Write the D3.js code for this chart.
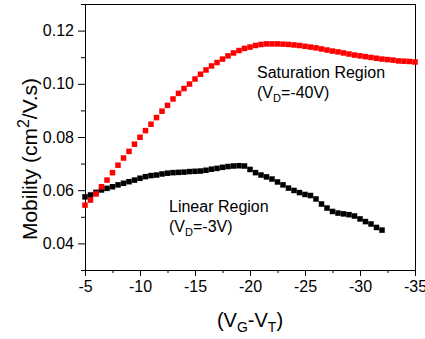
<!DOCTYPE html>
<html>
  <head>
    <meta charset="utf-8">
    <title>Mobility vs VG-VT</title>
    <style>
      body { margin: 0; background: #fff; }
      svg { display: block; font-family: "Liberation Sans", Arial, sans-serif; }
      .axis path, .axis line { stroke: #000; }
      .axis text { font-size: 16px; fill: #000; }
    </style>
  </head>
  <body>
    <div id="chart"></div>
    <script src="https://d3js.org/d3.v7.min.js"></script>
    <script>
      // gate overdrive (V), 0.5 V steps
      const vg = [
        -5, -5.5, -6, -6.5, -7, -7.5, -8, -8.5, -9, -9.5,
        -10, -10.5, -11, -11.5, -12, -12.5, -13, -13.5, -14, -14.5,
        -15, -15.5, -16, -16.5, -17, -17.5, -18, -18.5, -19, -19.5,
        -20, -20.5, -21, -21.5, -22, -22.5, -23, -23.5, -24, -24.5,
        -25, -25.5, -26, -26.5, -27, -27.5, -28, -28.5, -29, -29.5,
        -30, -30.5, -31, -31.5, -32, -32.5, -33, -33.5, -34, -34.5,
        -35
      ];

      // saturation region, VD = -40V
      const satMob = [
        0.0544, 0.0563, 0.0586, 0.0613, 0.0638, 0.0666, 0.0694, 0.0721, 0.0746, 0.0773,
        0.0799, 0.0824, 0.0848, 0.0873, 0.0897, 0.0919, 0.0943, 0.0964, 0.0982, 0.0999,
        0.1018, 0.1036, 0.1052, 0.1067, 0.1080, 0.1093, 0.1105, 0.1116, 0.1125, 0.1133,
        0.1138, 0.1144, 0.1148, 0.1150, 0.1150, 0.1150, 0.1149, 0.1148, 0.1146, 0.1144,
        0.1141, 0.1138, 0.1135, 0.1131, 0.1127, 0.1123, 0.1120, 0.1116, 0.1112, 0.1108,
        0.1105, 0.1102, 0.1099, 0.1096, 0.1093, 0.1091, 0.1089, 0.1086, 0.1085, 0.1084,
        0.1082
      ];

      // linear region, VD = -3V (stops at -32 V)
      const linMob = [
        0.0575, 0.0582, 0.0592, 0.0601, 0.0607, 0.0613, 0.0620, 0.0626, 0.0632, 0.0638,
        0.0645, 0.0651, 0.0655, 0.0657, 0.0661, 0.0664, 0.0666, 0.0667, 0.0668, 0.0670,
        0.0671, 0.0672, 0.0675, 0.0679, 0.0682, 0.0686, 0.0689, 0.0691, 0.0692, 0.0691,
        0.0678, 0.0666, 0.0657, 0.0650, 0.0642, 0.0631, 0.0620, 0.0608, 0.0599, 0.0591,
        0.0584, 0.0580, 0.0567, 0.0548, 0.0533, 0.0520, 0.0514, 0.0511, 0.0508, 0.0503,
        0.0492, 0.0482, 0.0473, 0.0460, 0.0450
      ];

      const xMajor = [-5, -10, -15, -20, -25, -30, -35];
      const xMinor = [-7.5, -12.5, -17.5, -22.5, -27.5, -32.5];
      const yMajor = [0.04, 0.06, 0.08, 0.10, 0.12];
      const yMinor = [0.03, 0.05, 0.07, 0.09, 0.11, 0.13];

      const W = 425, H = 339;
      const pLeft = 85, pRight = 415, pTop = 4, pBottom = 270;
      const sq = 5.5;

      const x = d3.scaleLinear().domain([-5, -35]).range([pLeft, pRight]);
      const y = d3.scaleLinear().domain([0.03, 0.13]).range([pBottom, pTop]);

      const svg = d3.select('#chart').append('svg').attr('width', W).attr('height', H);

      // minor ticks first
      svg.append('g').attr('class', 'axis').attr('transform', 'translate(0,' + pBottom + ')')
        .call(d3.axisBottom(x).tickValues(xMinor).tickSize(3).tickFormat(''))
        .select('.domain').remove();
      svg.append('g').attr('class', 'axis').attr('transform', 'translate(' + pLeft + ',0)')
        .call(d3.axisLeft(y).tickValues(yMinor).tickSize(4).tickFormat(''))
        .select('.domain').remove();

      svg.append('g').attr('class', 'axis').attr('transform', 'translate(0,' + pBottom + ')')
        .call(d3.axisBottom(x).tickValues(xMajor).tickSize(6).tickSizeOuter(0).tickPadding(5).tickFormat(d => String(d)));
      svg.append('g').attr('class', 'axis').attr('transform', 'translate(' + pLeft + ',0)')
        .call(d3.axisLeft(y).tickValues(yMajor).tickSize(7).tickSizeOuter(0).tickPadding(4).tickFormat(d3.format('.2f')));

      // frame top / right
      svg.append('line').attr('x1', pLeft).attr('x2', pRight).attr('y1', pTop + 0.5).attr('y2', pTop + 0.5).attr('stroke', '#000');
      svg.append('line').attr('x1', pRight + 0.5).attr('x2', pRight + 0.5).attr('y1', pTop).attr('y2', pBottom).attr('stroke', '#000');

      const lin = linMob.map((m, i) => [vg[i], m]);
      const sat = satMob.map((m, i) => [vg[i], m]);

      svg.append('g').selectAll('rect').data(lin).enter().append('rect')
        .attr('x', d => x(d[0]) - sq / 2).attr('y', d => y(d[1]) - sq / 2)
        .attr('width', sq).attr('height', sq).attr('fill', '#000');

      svg.append('g').selectAll('rect').data(sat).enter().append('rect')
        .attr('x', d => x(d[0]) - sq / 2).attr('y', d => y(d[1]) - sq / 2)
        .attr('width', sq).attr('height', sq).attr('fill', '#ff0000');

      // annotations
      const ann = svg.append('g').style('font-size', '16px').attr('fill', '#000');
      ann.append('text').attr('x', 257).attr('y', 78).text('Saturation Region');
      const t1 = ann.append('text').attr('x', 257).attr('y', 98);
      t1.append('tspan').text('(V');
      t1.append('tspan').attr('dy', 4).style('font-size', '11px').text('D');
      t1.append('tspan').attr('dy', -4).text('=-40V)');

      ann.append('text').attr('x', 169).attr('y', 212).text('Linear Region');
      const t2 = ann.append('text').attr('x', 169).attr('y', 232);
      t2.append('tspan').text('(V');
      t2.append('tspan').attr('dy', 4).style('font-size', '11px').text('D');
      t2.append('tspan').attr('dy', -4).text('=-3V)');

      // axis titles
      const xt = svg.append('text').attr('x', (pLeft + pRight) / 2).attr('y', 327)
        .attr('text-anchor', 'middle').style('font-size', '20px');
      xt.append('tspan').text('(V');
      xt.append('tspan').attr('dy', 5).style('font-size', '14px').text('G');
      xt.append('tspan').attr('dy', -5).text('-V');
      xt.append('tspan').attr('dy', 5).style('font-size', '14px').text('T');
      xt.append('tspan').attr('dy', -5).text(')');

      const yt = svg.append('text').attr('transform', 'translate(37,' + ((pTop + pBottom) / 2 + 22) + ') rotate(-90)')
        .attr('text-anchor', 'middle').style('font-size', '21px');
      yt.append('tspan').text('Mobility (cm');
      yt.append('tspan').attr('dy', -8).style('font-size', '16px').text('2');
      yt.append('tspan').attr('dy', 8).text('/V.s)');
    </script>
  </body>
</html>
